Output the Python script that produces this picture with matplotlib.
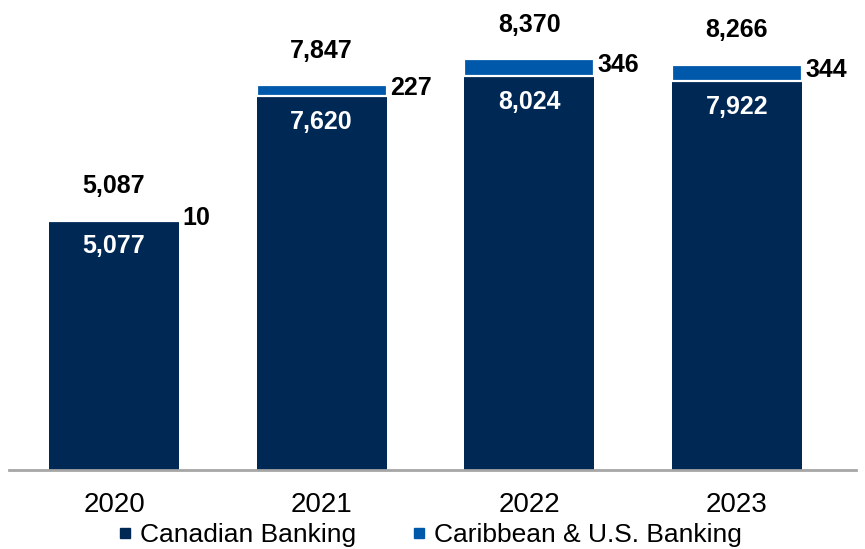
import matplotlib.pyplot as plt
from matplotlib.lines import Line2D

plt.rcParams['font.family'] = ['Liberation Sans', 'DejaVu Sans']

years = ['2020', '2021', '2022', '2023']
canadian = [5077, 7620, 8024, 7922]
caribbean = [10, 227, 346, 344]
totals = [5087, 7847, 8370, 8266]

navy = '#002855'
blue = '#0058AA'

fig = plt.figure(figsize=(8.65, 5.49), dpi=100)
ax = fig.add_axes([0.0104, 0.1439, 0.979, 0.8561])

x = list(range(len(years)))
w = 0.627
ax.bar(x, canadian, width=w, color=navy, zorder=2)
ax.bar(x, caribbean, width=w, bottom=canadian, color=blue,
       edgecolor='white', linewidth=1.6, zorder=2)

for i in x:
    ax.text(i, canadian[i] - 520, f'{canadian[i]:,}', ha='center', va='center',
            color='white', fontsize=18, fontweight='bold')
    ax.text(i, totals[i] + 700, f'{totals[i]:,}', ha='center', va='center',
            color='black', fontsize=18, fontweight='bold')
    ax.text(i + w / 2 + 0.015, canadian[i] + caribbean[i] / 2 + 60, f'{caribbean[i]:,}',
            ha='left', va='center', color='black', fontsize=18, fontweight='bold')

ax.set_xlim(-0.506, 3.573)
ax.set_ylim(0, 9582)
ax.set_xticks(x)
ax.set_xticklabels(years, fontsize=20)
ax.tick_params(axis='x', length=0, pad=16)
ax.set_yticks([])
for s in ['top', 'right', 'left']:
    ax.spines[s].set_visible(False)
ax.spines['bottom'].set_color('#a6a6a6')
ax.spines['bottom'].set_linewidth(2)

handles = [Line2D([], [], marker='s', linestyle='none', color=navy, markersize=7.5),
           Line2D([], [], marker='s', linestyle='none', color=blue, markersize=7.5)]
fig.legend(handles, ['Canadian Banking', 'Caribbean & U.S. Banking'],
           loc='center', bbox_to_anchor=(0.495, 0.025), ncol=2, frameon=False,
           fontsize=19, handletextpad=0.15, columnspacing=2.0, handlelength=0.8)

fig.savefig('out.png', dpi=100)
